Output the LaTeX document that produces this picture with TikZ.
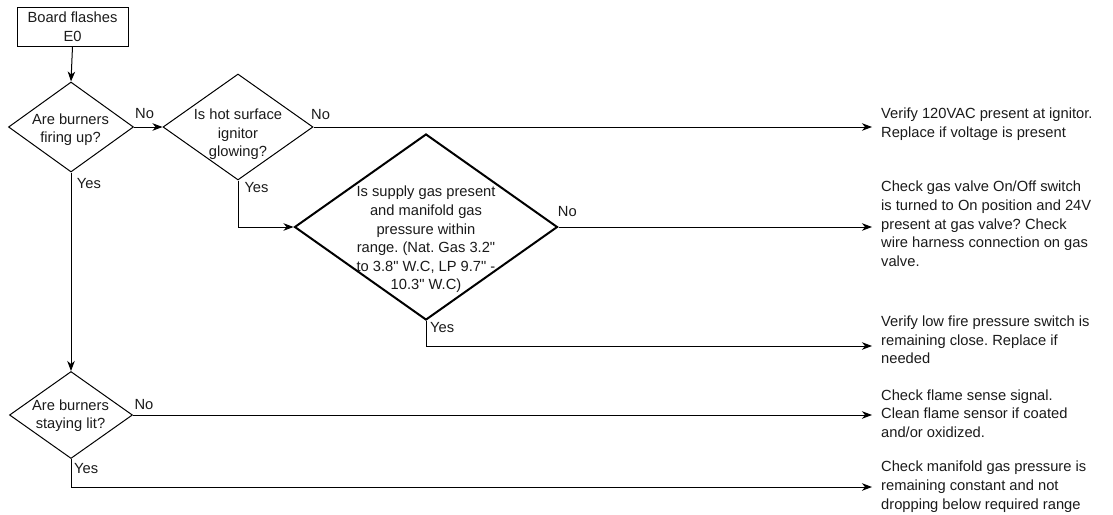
\documentclass[tikz,border=0pt]{standalone}
\usepackage{fontspec}
\setmainfont{Liberation Sans}
\usetikzlibrary{shapes.geometric,arrows.meta}
\newcommand{\myfs}{\fontsize{14.7}{18.6}\selectfont\frenchspacing}
\newcommand{\dq}{\XeTeXglyph\numexpr\XeTeXcharglyph"22\relax\relax}
\definecolor{txtc}{HTML}{1A1A1A}
\tikzset{
  every node/.style={font=\myfs, text=txtc},
  boxnode/.style={draw, line width=1pt, rectangle, inner sep=0pt, align=center},
  dia/.style={draw, line width=1pt, shape=diamond, inner sep=0pt},
  diathick/.style={dia, line width=2pt},
  dtext/.style={inner sep=0pt, align=center, anchor=north},
  rtext/.style={inner sep=0pt, align=left, anchor=north west},
  lab/.style={inner sep=0pt, anchor=base west},
  conn/.style={line width=1pt},
  arr/.style={conn, -{Stealth[length=10pt,width=7.5pt,inset=3pt]}},
  farr/.style={arr, shorten >=9pt}
}
\begin{document}
\begin{tikzpicture}[x=1pt,y=-1pt]
\useasboundingbox (0,0) rectangle (1113,514);
% start box
\node[boxnode, minimum width=111pt, minimum height=39pt] (box) at (72.5,26.5) {Board flashes\\E0};
% diamonds
\node[dia, minimum width=125pt, minimum height=90pt] (d1) at (71,127) {};
\node[dtext] (d1t) at (70.5,111) {\strut Are burners\\firing up?};
\node[dia, minimum width=150pt, minimum height=106pt] (d2) at (238,127) {};
\node[dtext] (d2t) at (238,106.3) {\strut Is hot surface\\ignitor\\glowing?};
\node[diathick, minimum width=263pt, minimum height=186pt] (d3) at (426,227) {};
\node[dtext] (d3t) at (426,183.7) {\strut Is supply gas present\\and manifold gas\\pressure within\\range. (Nat. Gas 3.2\dq\\to 3.8\dq{} W.C, LP 9.7\dq{} -\\10.3\dq{} W.C)};
\node[dia, minimum width=123pt, minimum height=87pt] (d4) at (71,415) {};
\node[dtext] (d4t) at (70.5,397) {\strut Are burners\\staying lit?};
% right texts
\node[rtext] (t1) at (881,105.5) {\strut Verify 120VAC present at ignitor.\\Replace if voltage is present};
\node[rtext] (t2) at (881,178.7) {\strut Check gas valve On/Off switch\\is turned to On position and 24V\\present at gas valve? Check\\wire harness connection on gas\\valve.};
\node[rtext] (t3) at (881,313.5) {\strut Verify low fire pressure switch is\\remaining close. Replace if\\needed};
\node[rtext] (t4) at (881,387) {\strut Check flame sense signal.\\Clean flame sensor if coated\\and/or oxidized.};
\node[rtext] (t5) at (881,458.7) {\strut Check manifold gas pressure is\\remaining constant and not\\dropping below required range};
% labels
\node[lab] (l1n) at (135,118.3) {No};
\node[lab] (l1y) at (76.7,188.3) {Yes};
\node[lab] (l2n) at (311,119) {No};
\node[lab] (l2y) at (244.3,192.3) {Yes};
\node[lab] (l3n) at (557.7,216.7) {No};
\node[lab] (l3y) at (430,332.7) {Yes};
\node[lab] (l4n) at (134.3,409) {No};
\node[lab] (l4y) at (74,473.3) {Yes};
% connectors
\draw[arr] (box.south) -- (d1.north);
\draw[arr] (d1.east) -- (d2.west);
\draw[farr] (d2.east) -- (d2.east -| t1.west);
\draw[arr] (d2.south) |- (d3.west);
\draw[farr] (d3.east) -- (d3.east -| t2.west);
\draw[farr] (d3.south) |- (t3.west |- 0,346);
\draw[arr] (d1.south) -- (d4.north);
\draw[farr] (d4.east) -- (d4.east -| t4.west);
\draw[farr] (d4.south) |- (t5.west |- 0,487);
\end{tikzpicture}
\end{document}
